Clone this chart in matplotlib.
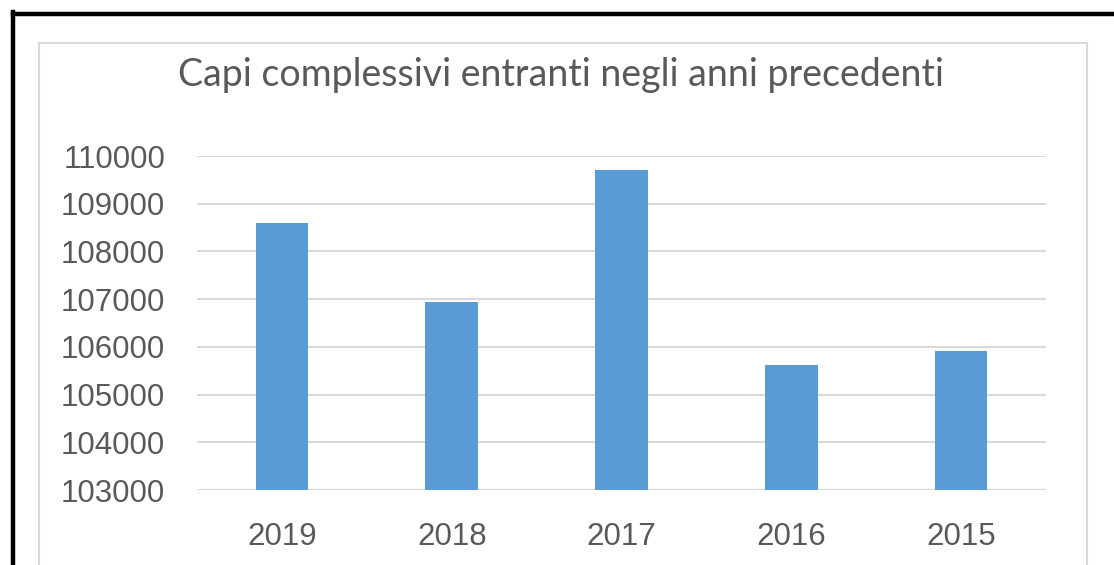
import matplotlib.pyplot as plt
from matplotlib.patches import Rectangle
from matplotlib.lines import Line2D

years = ['2019', '2018', '2017', '2016', '2015']
capi = [108600, 106950, 109700, 105620, 105920]
yticks = [103000, 104000, 105000, 106000, 107000, 108000, 109000, 110000]

W, H = 1114, 565
fig = plt.figure(figsize=(W / 100, H / 100), dpi=100)

# outer black border (top and left only visible)
fig.add_artist(Line2D([13 / W, 13 / W], [0, 1 - 12 / H], color='black', lw=3.2,
                      transform=fig.transFigure, solid_capstyle='projecting'))
fig.add_artist(Line2D([13 / W, 1], [1 - 14 / H, 1 - 14 / H], color='black', lw=3.2,
                      transform=fig.transFigure, solid_capstyle='projecting'))
# grey chart frame
fig.add_artist(Rectangle((39 / W, -0.05), (1087 - 39) / W, 1.05 - 43 / H,
                         transform=fig.transFigure, fill=False,
                         edgecolor='#d9d9d9', lw=1.5))

ax = fig.add_axes([197 / W, 1 - 490 / H, (1046 - 197) / W, (490 - 156) / H])
x = range(len(years))
ax.bar(x, capi, width=0.31, color='#5b9bd5', zorder=3)
ax.set_ylim(103000, 110000)
ax.set_xlim(-0.5, len(years) - 0.5)
ax.set_yticks(yticks)
ax.set_xticks(list(x))
ax.set_xticklabels(years)
ax.grid(axis='y', color='#d9d9d9', lw=1.5, zorder=0)
for s in ax.spines.values():
    s.set_visible(False)
ax.tick_params(length=0, labelsize=22.5, labelcolor='#595959')
ax.tick_params(axis='y', pad=23)
ax.tick_params(axis='x', pad=23)
for lab in ax.get_xticklabels() + ax.get_yticklabels():
    lab.set_fontfamily('Liberation Sans')

fig.text(561 / W, 1 - 75 / H, 'Capi complessivi entranti negli anni precedenti',
         ha='center', va='center', fontsize=27, color='#595959',
         family='Lato')

fig.savefig('out.png', dpi=100)
